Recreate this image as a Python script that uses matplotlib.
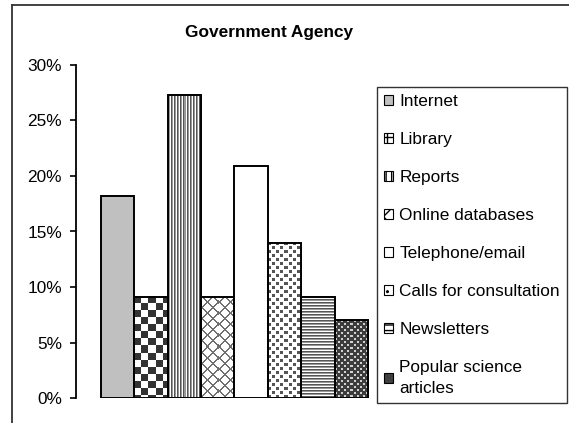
import matplotlib.pyplot as plt
import numpy as np
from matplotlib.lines import Line2D
from matplotlib.patches import Patch

plt.rcParams["font.family"] = ["Liberation Sans", "DejaVu Sans"]

W, H = 569, 423

categories = [
    "Internet",
    "Library",
    "Reports",
    "Online databases",
    "Telephone/email",
    "Calls for consultation",
    "Newsletters",
    "Popular science\narticles",
]
values = [18.2, 9.1, 27.3, 9.1, 20.9, 14.0, 9.1, 7.0]
fills = ["gray", "checker", "vstripes", "diamonds", "white", "dots", "hstripes", "darkdots"]
yticks = [0, 5, 10, 15, 20, 25, 30]


def hexrgb(c):
    c = c.lstrip("#")
    return np.array([int(c[i:i + 2], 16) for i in (0, 2, 4)]) / 255.0


def tile(kind, h, w):
    """Bitmap fill for a bar of h x w screen pixels."""
    iy, ix = np.mgrid[0:h, 0:w]
    img = np.ones((h, w, 3))
    if kind == "checker":
        mask = ((ix // 7 + iy // 7) % 2) == 0
        img[mask] = hexrgb("#333333")
    elif kind == "vstripes":
        img[ix % 3 == 0] = hexrgb("#555555")
        img[ix % 3 == 1] = hexrgb("#999999")
    elif kind == "hstripes":
        img[iy % 3 == 0] = hexrgb("#555555")
        img[iy % 3 == 1] = hexrgb("#999999")
    elif kind == "diamonds":
        mask = ((ix + iy) % 11 < 2) | ((ix - iy) % 11 < 2)
        img[mask] = hexrgb("#707070")
    elif kind == "dots":
        a = ((ix % 8) < 3) & ((iy % 8) < 3)
        b = (((ix + 4) % 8) < 3) & (((iy + 4) % 8) < 3)
        img[a | b] = hexrgb("#555555")
    elif kind == "darkdots":
        img[:] = hexrgb("#3c3c3c")
        a = ((ix % 6) < 2) & ((iy % 6) < 2)
        b = (((ix + 3) % 6) < 2) & (((iy + 3) % 6) < 2)
        img[a | b] = hexrgb("#d0d0d0")
    return img


fig = plt.figure(figsize=(W / 100, H / 100), dpi=100)
ax = fig.add_axes([76 / W, (H - 398) / H, (377 - 76) / W, (398 - 65) / H])

x = np.arange(len(values))
xlim = (-1.24, 7.77)
ylim = (0, 30)
ax.set_xlim(*xlim)
ax.set_ylim(*ylim)

for xi, v, kind in zip(x, values, fills):
    face = {"gray": "#c0c0c0", "white": "white"}.get(kind, "none")
    ax.bar(xi, v, width=1.0, color=face, edgecolor="black", linewidth=1.4, zorder=3)
    if face == "none":
        (px0, py0), (px1, py1) = ax.transData.transform([(xi - 0.5, 0), (xi + 0.5, v)])
        pw, ph = int(round(px1 - px0)), int(round(py1 - py0))
        ax.imshow(tile(kind, ph, pw), extent=(xi - 0.5, xi + 0.5, 0, v),
                  interpolation="nearest", aspect="auto", zorder=2)

ax.set_xlim(*xlim)
ax.set_ylim(*ylim)
ax.set_yticks(yticks)
ax.set_yticklabels([f"{t}%" for t in yticks], fontsize=12.4)
ax.tick_params(axis="y", direction="out", length=4, width=1.2, pad=6)
ax.set_xticks([])
for side in ("top", "right", "bottom"):
    ax.spines[side].set_visible(False)
ax.spines["left"].set_linewidth(1.3)

# outer chart-area border (runs off the right and bottom edges)
fig.add_artist(Line2D([12 / W, 12 / W], [1 - 5 / H, -0.1], color="#333333", lw=1.3))
fig.add_artist(Line2D([12 / W, 1.1], [1 - 5 / H, 1 - 5 / H], color="#333333", lw=1.3))

fig.text(269 / W, 1 - 33 / H, "Government Agency", ha="center", va="center",
         fontsize=12.4, fontweight="bold")

legend_hatch = [None, "++", "|||", "xx", None, "..", "---", None]
legend_face = ["#c0c0c0", "white", "white", "white", "white", "white", "white", "#404040"]
handles = [Patch(facecolor=f, edgecolor="black", hatch=h, linewidth=0.8)
           for f, h in zip(legend_face, legend_hatch)]
leg = fig.legend(handles, categories, loc="upper left",
                 bbox_to_anchor=(377 / W, 1 - 87 / H), borderaxespad=0,
                 fontsize=12.4, frameon=True, fancybox=False, edgecolor="black",
                 handlelength=0.5, handleheight=0.5, handletextpad=0.4,
                 borderpad=0.4, labelspacing=1.34)
leg.get_frame().set_linewidth(1.0)
for t in leg.get_texts():
    t.set_linespacing(1.45)

fig.savefig("out.png", dpi=100)
